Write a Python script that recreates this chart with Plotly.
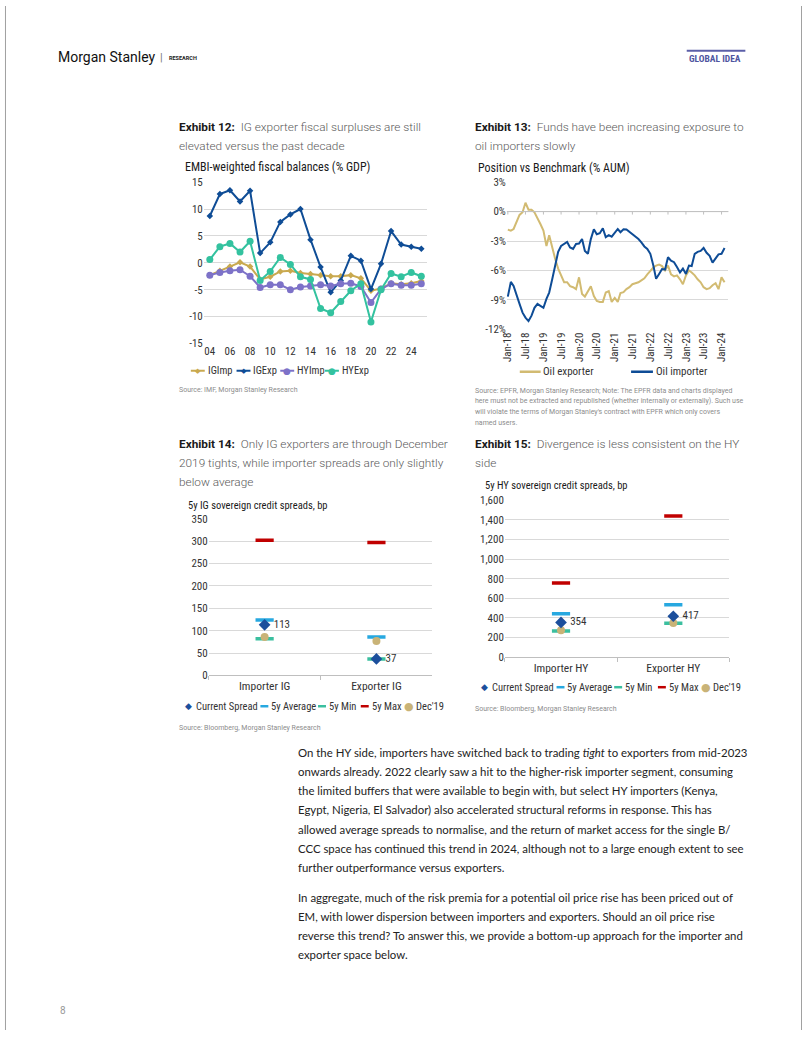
import plotly.graph_objects as go
import pandas as pd

# ---------------- DATA ----------------
years = list(range(2004, 2026))
ig_imp = [-2.3, -1.5, -0.7, 0.1, -0.7, -3.1, -2.6, -1.6, -1.5, -1.9, -2.1, -2.3, -2.5, -2.5, -2.3, -2.9, -5.2, -4.8, -3.8, -4.0, -3.8, -3.4]
ig_exp = [8.7, 12.8, 13.5, 11.4, 13.4, 1.8, 3.8, 7.6, 9.0, 10.0, 4.3, -0.8, -5.5, -3.3, 1.3, 0.4, -4.9, -0.2, 5.9, 3.4, 3.0, 2.6]
hy_imp = [-2.3, -1.8, -1.5, -1.3, -2.5, -4.6, -4.1, -4.1, -5.0, -4.5, -4.3, -4.1, -4.3, -3.9, -3.8, -4.4, -7.4, -4.9, -3.9, -4.2, -4.2, -3.9]
hy_exp = [0.6, 3.0, 3.6, 2.0, 4.0, -3.3, -1.6, 1.0, -0.3, -2.6, -3.1, -8.5, -9.3, -7.2, -5.2, -3.9, -11.0, -5.0, -2.0, -2.6, -1.8, -2.5]
fiscal_tickvals = [15, 10, 5, 0, -5, -10, -15]
fiscal_ticktext = ["15", "10", "5", "0", "-5", "-10", "-15"]
year_tickvals = list(range(2004, 2025, 2))
year_ticktext = ["04", "06", "08", "10", "12", "14", "16", "18", "20", "22", "24"]

months = pd.date_range("2018-01-01", periods=74, freq="MS")
oil_exporter = [-1.84, -1.94, -1.77, -1.1, -0.34, -0.07, 0.9, 0.2, 0.2, -0.07, -0.6, -1.26, -1.94, -3.5, -2.4, -3.8,
                -4.8, -5.8, -6.5, -7.2, -7.2, -7.6, -7.7, -7.9, -6.7, -8.4, -8.66, -8.1, -7.6, -8.6, -9.1, -9.2,
                -9.2, -8.25, -8.1, -9.2, -8.8, -9.2, -8.3, -8.2, -7.9, -7.7, -7.4, -7.3, -7.2, -7.0, -6.8, -6.4,
                -6.0, -5.7, -5.5, -5.4, -5.55, -6.0, -5.5, -6.4, -6.6, -6.5, -6.9, -7.4, -6.5, -6.0, -6.2, -6.5,
                -6.9, -7.2, -7.7, -7.9, -7.8, -7.5, -7.3, -7.9, -6.7, -7.2]
oil_importer = [-8.66, -7.16, -7.57, -8.4, -9.4, -10.3, -10.8, -11.15, -10.6, -9.8, -9.4, -9.6, -9.8, -8.9, -8.25, -6.9,
                -5.35, -4.1, -3.5, -3.3, -3.1, -3.65, -3.8, -3.3, -3.25, -2.8, -4.0, -4.3, -2.8, -1.8, -2.3, -2.2,
                -1.7, -2.6, -2.4, -2.55, -2.2, -1.77, -2.1, -1.8, -1.83, -2.07, -2.35, -2.6, -2.8, -3.14, -3.55, -3.8,
                -4.3, -5.5, -6.85, -6.35, -5.85, -5.9, -4.65, -5.0, -5.15, -5.65, -6.2, -5.8, -6.35, -5.5, -5.55, -4.3,
                -4.1, -4.0, -3.7, -4.2, -4.5, -5.2, -4.7, -4.35, -4.3, -3.7]
pos_tickvals = [3, 0, -3, -6, -9, -12]
pos_ticktext = ["3%", "0%", "-3%", "-6%", "-9%", "-12%"]
month_tickvals = pd.date_range("2018-01-01", "2024-01-01", freq="6MS")

ig_categories = ["Importer IG", "Exporter IG"]
ig_current = [113, 37]
ig_avg = [124, 86]
ig_min = [82, 37]
ig_max = [302, 297]
ig_dec19 = [86, 77]
ig_tickvals = [0, 50, 100, 150, 200, 250, 300, 350]

hy_categories = ["Importer HY", "Exporter HY"]
hy_current = [354, 417]
hy_avg = [442, 535]
hy_min = [268, 345]
hy_max = [757, 1440]
hy_dec19 = [274, 348]
hy_tickvals = [0, 200, 400, 600, 800, 1000, 1200, 1400, 1600]

# ---------------- STYLE ----------------
W, H = 802, 1037
def X(px):
    return (px - 3) / W
def Y(py):
    return 1 - ((py - 5.8) / 0.986) / H

CF = "Roboto Condensed, Liberation Sans Narrow, Roboto, sans-serif"
RF = "Roboto, sans-serif"
BF = "Lato, Noto Sans, sans-serif"
GRID = "#d9d9d9"
TXT = "#333333"

C_IGIMP = "#c9a94f"
C_IGEXP = "#0f4d96"
C_HYIMP = "#7d72c8"
C_HYEXP = "#33c29f"
C_OILEXP = "#d2bb72"
C_OILIMP = "#0e4c96"
C_CUR = "#1c4f9c"
C_AVG = "#27a8e0"
C_MIN = "#3bbf9f"
C_MAX = "#c00000"
C_DEC = "#c9b377"

fig = go.Figure()

# ---- Exhibit 12 ----
for name, vals, col, sym, sz in [("IGImp", ig_imp, C_IGIMP, "diamond", 5),
                                  ("IGExp", ig_exp, C_IGEXP, "diamond", 5),
                                  ("HYImp", hy_imp, C_HYIMP, "circle", 7),
                                  ("HYExp", hy_exp, C_HYEXP, "circle", 7)]:
    fig.add_trace(go.Scatter(x=years, y=vals, name=name, mode="lines+markers",
                             line=dict(color=col, width=2),
                             marker=dict(symbol=sym, size=sz, color=col),
                             xaxis="x", yaxis="y", showlegend=False))

# ---- Exhibit 13 ----
fig.add_trace(go.Scatter(x=months, y=oil_exporter, name="Oil exporter", mode="lines",
                         line=dict(color=C_OILEXP, width=2), xaxis="x2", yaxis="y2", showlegend=False))
fig.add_trace(go.Scatter(x=months, y=oil_importer, name="Oil importer", mode="lines",
                         line=dict(color=C_OILIMP, width=2), xaxis="x2", yaxis="y2", showlegend=False))

# ---- Exhibits 14 & 15 ----
def spread_traces(cats, cur, avg, mn, mx, dec, xa, ya):
    fig.add_trace(go.Scatter(x=cats, y=mx, mode="markers", name="5y Max",
                             marker=dict(symbol="line-ew", size=13, line=dict(width=3.5, color=C_MAX)),
                             xaxis=xa, yaxis=ya, showlegend=False))
    fig.add_trace(go.Scatter(x=cats, y=avg, mode="markers", name="5y Average",
                             marker=dict(symbol="line-ew", size=13, line=dict(width=3.5, color=C_AVG)),
                             xaxis=xa, yaxis=ya, showlegend=False))
    fig.add_trace(go.Scatter(x=cats, y=mn, mode="markers", name="5y Min",
                             marker=dict(symbol="line-ew", size=13, line=dict(width=3.5, color=C_MIN)),
                             xaxis=xa, yaxis=ya, showlegend=False))
    fig.add_trace(go.Scatter(x=cats, y=dec, mode="markers", name="Dec'19",
                             marker=dict(symbol="circle", size=8, color=C_DEC),
                             xaxis=xa, yaxis=ya, showlegend=False))
    fig.add_trace(go.Scatter(x=cats, y=cur, mode="markers+text", name="Current Spread",
                             marker=dict(symbol="diamond", size=9, color=C_CUR),
                             text=["\u00a0" + str(v) for v in cur], textposition="middle right",
                             textfont=dict(family=CF, size=11, color=TXT),
                             xaxis=xa, yaxis=ya, showlegend=False))

spread_traces(ig_categories, ig_current, ig_avg, ig_min, ig_max, ig_dec19, "x3", "y3")
spread_traces(hy_categories, hy_current, hy_avg, hy_min, hy_max, hy_dec19, "x4", "y4")

tickfont = dict(family=CF, size=11, color=TXT)

fig.update_layout(
    width=W, height=H, margin=dict(l=0, r=0, t=0, b=0),
    paper_bgcolor="white", plot_bgcolor="white", showlegend=False,
    xaxis=dict(domain=[X(203), X(428)], range=[2003.4, 2025.6], tickvals=year_tickvals, ticktext=year_ticktext,
               showgrid=False, zeroline=False, showline=False, ticks="", tickfont=tickfont, anchor="y"),
    yaxis=dict(domain=[Y(342.7), Y(181.7)], range=[-15, 15], tickvals=fiscal_tickvals, ticktext=fiscal_ticktext,
               showgrid=True, gridcolor=GRID, gridwidth=1, zeroline=False, showline=False, ticks="",
               tickfont=tickfont, anchor="x"),
    xaxis2=dict(domain=[X(508), X(731)], range=["2017-12-22", "2024-03-12"], type="date",
                tickvals=list(month_tickvals), tickformat="%b-%y", tickangle=-90,
                showgrid=False, zeroline=False, showline=False, ticks="", tickfont=tickfont, anchor="y2"),
    yaxis2=dict(domain=[Y(328.7), Y(181.7)], range=[-12, 3], tickvals=pos_tickvals, ticktext=pos_ticktext,
                showgrid=True, gridcolor=GRID, gridwidth=1, zeroline=False, showline=False, ticks="",
                tickfont=tickfont, anchor="x2"),
    xaxis3=dict(domain=[X(208), X(433)], type="category", categoryarray=ig_categories, range=[-0.5, 1.5],
                showgrid=False, zeroline=False, showline=True, linecolor="#bfbfbf", linewidth=1,
                ticks="outside", tickson="boundaries", ticklen=4, tickcolor="#bfbfbf",
                tickfont=dict(family=CF, size=11.5, color=TXT), anchor="y3"),
    yaxis3=dict(domain=[Y(674.3), Y(517.7)], range=[0, 350], tickvals=ig_tickvals,
                showgrid=True, gridcolor=GRID, zeroline=False, showline=False, ticks="",
                tickfont=tickfont, anchor="x3"),
    xaxis4=dict(domain=[X(506), X(732)], type="category", categoryarray=hy_categories, range=[-0.5, 1.5],
                showgrid=False, zeroline=False, showline=True, linecolor="#bfbfbf", linewidth=1,
                ticks="outside", tickson="boundaries", ticklen=4, tickcolor="#bfbfbf",
                tickfont=dict(family=CF, size=11.5, color=TXT), anchor="y4"),
    yaxis4=dict(domain=[Y(656), Y(499.3)], range=[0, 1600], tickvals=hy_tickvals, tickformat=",",
                showgrid=True, gridcolor=GRID, zeroline=False, showline=False, ticks="",
                tickfont=tickfont, anchor="x4"),
)

shapes = []
# Exhibit 13: horizontal axis at 0% with tick marks
shapes.append(dict(type="line", xref="x2 domain", yref="y2", x0=0, x1=1, y0=0, y1=0,
                   line=dict(color="#bfbfbf", width=1)))
for d in month_tickvals:
    shapes.append(dict(type="line", xref="x2", yref="y2", x0=d, x1=d, y0=0, y1=-0.3,
                       line=dict(color="#bfbfbf", width=1)))

annotations = []
def ann(x, y, text, size, color=TXT, family=RF, xanchor="left", yanchor="middle", weight=None):
    f = dict(family=family, size=size, color=color)
    if weight is not None:
        f["weight"] = weight
    annotations.append(dict(x=X(x), y=Y(y), xref="paper", yref="paper", text=text, showarrow=False,
                            xanchor=xanchor, yanchor=yanchor, align="left", font=f))

def hline(x0, x1, y, color, width):
    shapes.append(dict(type="line", xref="paper", yref="paper", x0=X(x0), x1=X(x1), y0=Y(y), y1=Y(y),
                       line=dict(color=color, width=width)))

# Page border
shapes.append(dict(type="line", xref="paper", yref="paper", x0=0.0006, x1=0.0006, y0=0, y1=1,
                   line=dict(color="#a0a0a0", width=1)))
shapes.append(dict(type="line", xref="paper", yref="paper", x0=0.9994, x1=0.9994, y0=0, y1=1,
                   line=dict(color="#a0a0a0", width=1)))

# Header
ann(54, 57, "Morgan Stanley", 14, color="#111111", family=RF)
ann(157, 57, "|", 11, color="#777777", family=RF)
ann(166, 57.5, "<b>RESEARCH</b>", 5.5, color="#222222", family=RF)
hline(689, 748, 50.5, "#5b5fa8", 2)
ann(689, 58, "<b>GLOBAL IDEA</b>", 9.5, color="#4f559f", family=CF)

# Exhibit titles
def exhibit(x, y, label, lines):
    for i, line in enumerate(lines):
        if i == 0:
            t = "<b><span style='color:#1a1a1a'>" + label + "</span></b>\u00a0\u00a0" + line
        else:
            t = line
        ann(x, y + i * 18.8, t, 11.8, color="#5a5a5a", family=RF, weight=300)

exhibit(176, 127, "Exhibit 12:", ["IG exporter fiscal surpluses are still", "elevated versus the past decade"])
exhibit(474, 127, "Exhibit 13:", ["Funds have been increasing exposure to", "oil importers slowly"])
exhibit(176, 443, "Exhibit 14:", ["Only IG exporters are through December",
                                 "2019 tights, while importer spreads are only slightly", "below average"])
exhibit(474, 443, "Exhibit 15:", ["Divergence is less consistent on the HY", "side"])

# Chart titles
ann(182, 167, "EMBI-weighted fiscal balances (% GDP)", 12, color="#1a1a1a", family=CF)
ann(477, 167.5, "Position vs Benchmark (% AUM)", 12, color="#1a1a1a", family=CF)
ann(185, 505, "5y IG sovereign credit spreads, bp", 10.5, color="#1a1a1a", family=CF)
ann(484, 485, "5y HY sovereign credit spreads, bp", 10.5, color="#1a1a1a", family=CF)

# Legends
LF = 10.5
def line_legend(x0, y, color, label, marker=None, msize=9):
    hline(x0, x0 + 14, y, color, 2)
    if marker:
        ann(x0 + 7, y, marker, msize, color=color, family="DejaVu Sans", xanchor="center")
    ann(x0 + 15, y, label, LF, family=CF)

line_legend(190, 370, C_IGIMP, "IGImp", "\u25c6", 7)
line_legend(236, 370, C_IGEXP, "IGExp", "\u25c6", 7)
line_legend(280, 370, C_HYIMP, "HYImp", "\u25cf", 9)
line_legend(325, 370, C_HYEXP, "HYExp", "\u25cf", 9)

hline(521, 542, 371, C_OILEXP, 2.5)
ann(542, 371, "Oil exporter", 11, family=CF)
hline(633, 655, 371, C_OILIMP, 2.5)
ann(656, 371, "Oil importer", 11, family=CF)

def spread_legend(y, xs):
    items = [("\u25c6", C_CUR, "Current Spread", 9), ("\u2014", C_AVG, "5y Average", 9),
             ("\u2014", C_MIN, "5y Min", 9), ("\u2014", C_MAX, "5y Max", 9), ("\u25cf", C_DEC, "Dec'19", 11)]
    for (sym, col, lab, ms), x in zip(items, xs):
        if sym == "\u2014":
            hline(x - 4, x + 4, y, col, 2.5)
        else:
            ann(x, y, sym, ms, color=col, family="DejaVu Sans", xanchor="center")
        ann(x + 5, y, lab, LF, family=CF)

spread_legend(705, [188, 264, 322, 365, 410])
spread_legend(686, [486, 562, 620, 664, 708])

# Sources
SRC = "#8c8c8c"
ann(176, 389, "Source: IMF, Morgan Stanley Research", 7, color=SRC, family=RF)
src13 = ["Source: EPFR, Morgan Stanley Research; Note: The EPFR data and charts displayed",
         "here must not be extracted and republished (whether internally or externally). Such use",
         "will violate the terms of Morgan Stanley's contract with EPFR which only covers",
         "named users."]
for i, s in enumerate(src13):
    ann(474, 390 + i * 10.6, s, 7, color=SRC, family=RF)
ann(176, 727, "Source: Bloomberg, Morgan Stanley Research", 7, color=SRC, family=RF)
ann(474, 708, "Source: Bloomberg, Morgan Stanley Research", 7, color=SRC, family=RF)

# Body text
para1 = ["On the HY side, importers have switched back to trading <i>tight</i> to exporters from mid-2023",
         "onwards already. 2022 clearly saw a hit to the higher-risk importer segment, consuming",
         "the limited buffers that were available to begin with, but select HY importers (Kenya,",
         "Egypt, Nigeria, El Salvador) also accelerated structural reforms in response. This has",
         "allowed average spreads to normalise, and the return of market access for the single B/",
         "CCC space has continued this trend in 2024, although not to a large enough extent to see",
         "further outperformance versus exporters."]
para2 = ["In aggregate, much of the risk premia for a potential oil price rise has been priced out of",
         "EM, with lower dispersion between importers and exporters. Should an oil price rise",
         "reverse this trend? To answer this, we provide a bottom-up approach for the importer and",
         "exporter space below."]
for i, s in enumerate(para1):
    ann(296, 751 + i * 19.2, s, 11.4, color="#222222", family=BF)
for i, s in enumerate(para2):
    ann(296, 896 + i * 19, s, 11.4, color="#222222", family=BF)

ann(56, 1009, "8", 10, color="#999999", family=RF)

fig.update_layout(shapes=shapes, annotations=annotations)
fig.write_html("out.html", config={"displayModeBar": False},
               post_script="document.body.style.margin='0';document.body.style.overflow='hidden';")
